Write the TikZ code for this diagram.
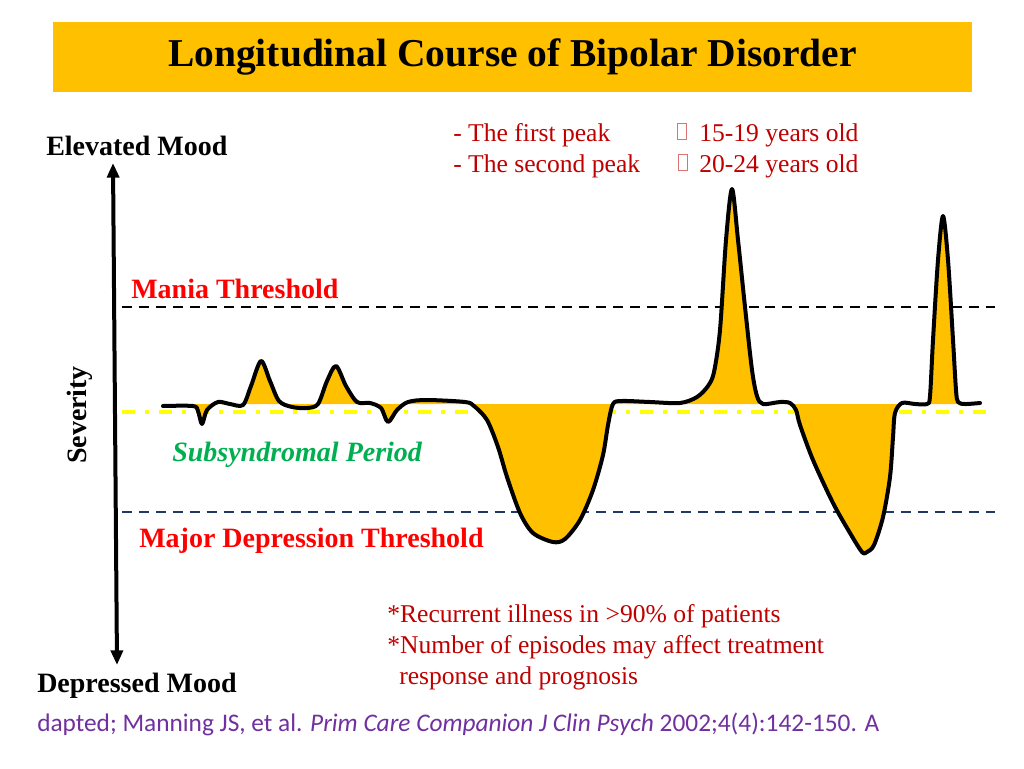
\documentclass[tikz,border=0pt]{standalone}
\usepackage{fontspec}
\setmainfont{Liberation Serif}
\newfontfamily\citefont{Carlito}
\usetikzlibrary{arrows.meta}
\definecolor{gold}{HTML}{FFC000}
\definecolor{darkred}{HTML}{C00000}
\definecolor{brightred}{HTML}{FF0000}
\definecolor{greentxt}{HTML}{00B050}
\definecolor{navyline}{HTML}{203864}
\definecolor{yel}{HTML}{FFFF00}
\definecolor{purp}{HTML}{7030A0}
\tikzset{
  bigbold/.style={inner sep=0pt, anchor=base west, font=\fontsize{21}{25}\selectfont\bfseries},
  note/.style={inner sep=0pt, anchor=base west, text=darkred, font=\fontsize{19.2}{23}\selectfont},
  tofu/.style={draw=darkred!55, line width=0.6pt, inner sep=0pt, minimum width=7pt, minimum height=12.5pt, anchor=south west},
  thresh/.style={line width=1.9pt, dash pattern=on 7.5pt off 5.2pt},
  subline/.style={yel, line width=2.4pt, dash pattern=on 9.75pt off 7.5pt on 3pt off 7.5pt},
  course/.style={line width=3pt, line join=round, line cap=round},
  axis/.style={line width=3pt, {Triangle[length=11pt,width=9pt]}-{Triangle[length=11pt,width=9pt]}}
}
\begin{document}
\begin{tikzpicture}[x=0.75pt,y=-0.75pt]
\useasboundingbox (0,0) rectangle (1024,768);
\fill[white] (0,0) rectangle (1024,768);
% title
\fill[gold] (53,22) rectangle (972,92);
\node[inner sep=0pt, anchor=base, font=\fontsize{29.6}{34}\selectfont\bfseries] (title) at (512.5,66) {Longitudinal Course of Bipolar Disorder};
% threshold lines
\coordinate (mL) at (122,307); \coordinate (mR) at (995,307);
\coordinate (dL) at (122,512); \coordinate (dR) at (995,512);
\coordinate (sL) at (122,412); \coordinate (sR) at (990,412);
\draw[thresh, black] (mL) -- (mR);
\draw[thresh, navyline] (dL) -- (dR);
\draw[subline] (sL) -- (sR);
% course curve
\def\coursepts{(163,406) (193,406) (198,411) (202,424) (207,410) (218,402) (230,404) (243,405) (251,386) (261,361) (270,381) (279,401) (292,407) (307,408) (318,404) (327,381) (336,366) (346,386) (357,402) (370,403) (381,408) (388,422) (397,410) (408,402) (427,400) (465,402) (474,406) (487,420) (498,447) (507,477) (520,513) (533,533) (553,542) (565,539) (580,520) (593,490) (603,455) (608,425) (613,404) (622,401) (650,402) (680,403) (697,397) (708,386) (714,372) (720,330) (726,240) (732,189) (738,240) (745,307) (752,370) (757,396) (763,404) (780,402) (790,403) (796,410) (800,425) (813,460) (833,503) (850,533) (862,552) (867,552) (874,545) (883,517) (890,477) (893,437) (895,413) (902,403) (915,404) (927,404) (930,396) (933,340) (938,260) (943,216) (948,260) (953,340) (956,390) (958,402) (965,404) (980,403)}
\fill[gold] plot[smooth, tension=0.5] coordinates {\coursepts} -- (980,404) -- (163,404) -- cycle;
\draw[course] plot[smooth, tension=0.5] coordinates {\coursepts};
% axis
\coordinate (axTop) at (113,163);
\coordinate (axBot) at (117,665);
\draw[axis] (axBot) -- (axTop);
% labels
\node[bigbold] (elev) at (46,155) {Elevated Mood};
\node[bigbold, text=brightred] (mania) at (131,298) {Mania Threshold};
\node[bigbold, text=greentxt, font=\fontsize{21}{25}\selectfont\bfseries\itshape] (subs) at (172,461) {Subsyndromal Period};
\node[bigbold, text=brightred] (majdep) at (139,547) {Major Depression Threshold};
\node[bigbold] (depr) at (37,692) {Depressed Mood};
\node[inner sep=0pt, anchor=base, rotate=90, font=\fontsize{21}{25}\selectfont\bfseries] (sev) at (86,415) {Severity};
% peaks notes
\node[note] (p1) at (453,141) {- The first peak};
\node[tofu] (b1) at (677,140) {};
\node[note] (a1) at (699,141) {15-19 years old};
\node[note] (p2) at (453,172) {- The second peak};
\node[tofu] (b2) at (678,171) {};
\node[note] (a2) at (699,172) {20-24 years old};
% bottom notes
\node[note] (n1) at (387,622) {*Recurrent illness in >90\% of patients};
\node[note] (n2) at (387,653) {*Number of episodes may affect treatment};
\node[note] (n3) at (399,684) {response and prognosis};
% citation
\node[inner sep=0pt, anchor=base west, text=purp, font=\citefont\fontsize{19}{23}\selectfont] (cite) at (37,731) {dapted; Manning JS, et al. \textit{Prim Care Companion J Clin Psych} 2002;4(4):142-150. A};
\end{tikzpicture}
\end{document}
